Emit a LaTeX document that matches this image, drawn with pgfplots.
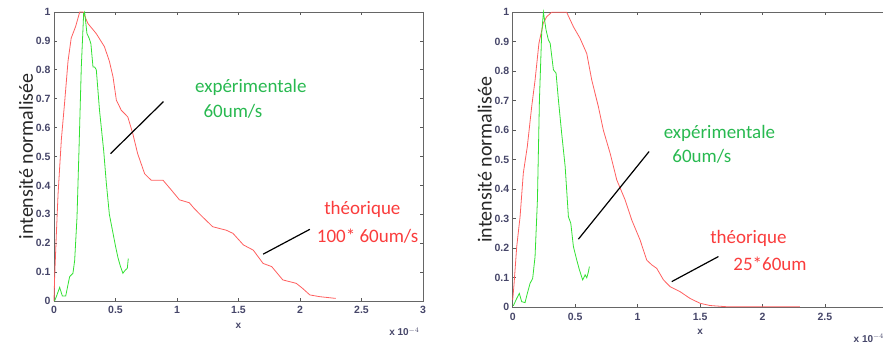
\documentclass[border=0pt]{standalone}
\usepackage{pgfplots}
\pgfplotsset{compat=1.18}
\usepackage{fontspec}
\setmainfont{Liberation Sans}
\newfontfamily\calfont{Carlito}
\definecolor{tickc}{RGB}{70,70,105}
\definecolor{redl}{RGB}{255,95,95}
\definecolor{greenl}{RGB}{50,225,50}
\definecolor{gtext}{RGB}{40,185,80}
\definecolor{rtext}{RGB}{250,60,60}
\pgfplotsset{mstyle/.style={scale only axis, clip=false, xmin=0,xmax=3,ymin=0,ymax=1,
  xtick={0,0.5,1,1.5,2,2.5,3}, xticklabels={0,0.5,1,1.5,2,2.5,3},
  ytick={0,0.1,0.2,0.3,0.4,0.5,0.6,0.7,0.8,0.9,1},
  yticklabels={0,0.1,0.2,0.3,0.4,0.5,0.6,0.7,0.8,0.9,1},
  tick align=inside, major tick length=3pt,
  axis line style={draw=gray!80!black, line width=0.8pt},
  tick style={draw=gray!70!black, line width=0.6pt},
  ticklabel style={font=\fontsize{10.5}{11}\selectfont\bfseries, text=tickc},
  xticklabel style={yshift=-2pt},
  xlabel={x}, xlabel style={font=\fontsize{10}{11}\selectfont\bfseries, text=tickc, yshift=-2pt},
  ylabel={\calfont intensité normalisée},
  ylabel style={font=\fontsize{20}{22}\selectfont, text=black!85, yshift=-4pt},
  every axis plot/.append style={line width=0.8pt}
}}
\begin{document}
\begin{tikzpicture}
\begin{axis}[mstyle, at={(54pt,46pt)}, anchor=south west, width=369pt, height=289pt]
\addplot[redl] coordinates {
(0,0)(0.005,0.08)(0.019,0.23)(0.033,0.37)(0.06,0.56)(0.087,0.69)(0.114,0.83)(0.14,0.91)(0.176,0.95)(0.209,1.0)(0.236,1.0)(0.276,0.96)(0.344,0.925)(0.41,0.88)(0.45,0.83)(0.48,0.775)(0.507,0.695)(0.547,0.66)(0.60,0.637)(0.64,0.58)(0.68,0.51)(0.737,0.44)(0.79,0.418)(0.886,0.418)(0.954,0.384)(1.02,0.35)(1.10,0.34)(1.14,0.32)(1.21,0.29)(1.29,0.257)(1.40,0.245)(1.455,0.234)(1.54,0.194)(1.62,0.176)(1.70,0.13)(1.77,0.119)(1.86,0.073)(1.97,0.061)(2.02,0.044)(2.08,0.021)(2.16,0.015)(2.29,0.009)};
\addplot[greenl] coordinates {
(0.005,0.0)(0.019,0.015)(0.046,0.047)(0.068,0.017)(0.095,0.017)(0.127,0.084)(0.154,0.096)(0.168,0.14)(0.187,0.29)(0.203,0.52)(0.222,0.81)(0.241,0.994)(0.249,1.0)(0.268,0.925)(0.285,0.91)(0.30,0.89)(0.317,0.81)(0.33,0.81)(0.344,0.80)(0.37,0.66)(0.404,0.52)(0.425,0.41)(0.45,0.30)(0.48,0.234)(0.50,0.19)(0.52,0.15)(0.54,0.12)(0.56,0.096)(0.58,0.107)(0.596,0.113)(0.604,0.147)};
\draw[black, line width=1.2pt] (axis cs:0.46,0.51) -- (axis cs:0.89,0.69);
\draw[black, line width=1.2pt] (axis cs:1.70,0.162) -- (axis cs:2.08,0.248);
\node[text=gtext, font=\calfont\fontsize{19}{20}\selectfont] at (axis cs:1.60,0.738) {expérimentale};
\node[text=gtext, font=\calfont\fontsize{19}{20}\selectfont] at (axis cs:1.455,0.658) {60um/s};
\node[text=rtext, font=\calfont\fontsize{19}{20}\selectfont] at (axis cs:2.507,0.317) {théorique};
\node[text=rtext, font=\calfont\fontsize{19}{20}\selectfont] at (axis cs:2.55,0.226) {100* 60um/s};
\node[anchor=east, text=tickc, font=\fontsize{10}{11}\selectfont\bfseries] at (axis cs:3,-0.107) {x 10$^{-4}$};
\end{axis}
\begin{axis}[mstyle, at={(512.7pt,39.7pt)}, anchor=south west, width=374.7pt, height=295pt]
\addplot[redl] coordinates {
(0,0.025)(0.011,0.08)(0.032,0.205)(0.059,0.307)(0.085,0.455)(0.117,0.545)(0.152,0.68)(0.179,0.77)(0.21,0.895)(0.245,0.963)(0.272,0.985)(0.312,1.0)(0.432,1.0)(0.486,0.951)(0.539,0.912)(0.593,0.86)(0.633,0.77)(0.686,0.68)(0.726,0.60)(0.78,0.522)(0.833,0.432)(0.90,0.364)(0.953,0.296)(1.02,0.228)(1.073,0.16)(1.113,0.144)(1.153,0.132)(1.207,0.093)(1.26,0.07)(1.34,0.053)(1.42,0.03)(1.50,0.0136)(1.58,0.006)(1.71,0.002)(2.30,0.002)};
\addplot[greenl] coordinates {
(0.005,0.005)(0.032,0.03)(0.053,0.047)(0.072,0.019)(0.099,0.016)(0.117,0.047)(0.139,0.081)(0.16,0.098)(0.179,0.172)(0.198,0.364)(0.214,0.703)(0.232,0.929)(0.246,1.0)(0.267,0.94)(0.286,0.906)(0.30,0.895)(0.326,0.805)(0.347,0.794)(0.366,0.703)(0.392,0.59)(0.42,0.477)(0.446,0.307)(0.465,0.285)(0.486,0.206)(0.513,0.16)(0.534,0.127)(0.56,0.093)(0.58,0.11)(0.593,0.10)(0.606,0.12)(0.614,0.138)};
\draw[black, line width=1.2pt] (axis cs:0.526,0.231) -- (axis cs:1.092,0.528);
\draw[black, line width=1.2pt] (axis cs:1.273,0.087) -- (axis cs:1.647,0.172);
\node[text=gtext, font=\calfont\fontsize{19}{20}\selectfont] at (axis cs:1.655,0.59) {expérimentale};
\node[text=gtext, font=\calfont\fontsize{19}{20}\selectfont] at (axis cs:1.514,0.513) {60um/s};
\node[text=rtext, font=\calfont\fontsize{19}{20}\selectfont] at (axis cs:1.887,0.234) {théorique};
\node[text=rtext, font=\calfont\fontsize{19}{20}\selectfont] at (axis cs:2.06,0.146) {25*60um};
\node[anchor=east, text=tickc, font=\fontsize{10}{11}\selectfont\bfseries] at (axis cs:3,-0.105) {x 10$^{-4}$};
\end{axis}
\pgfresetboundingbox
\useasboundingbox (0,0) rectangle (883pt,347pt);
\end{tikzpicture}
\end{document}
